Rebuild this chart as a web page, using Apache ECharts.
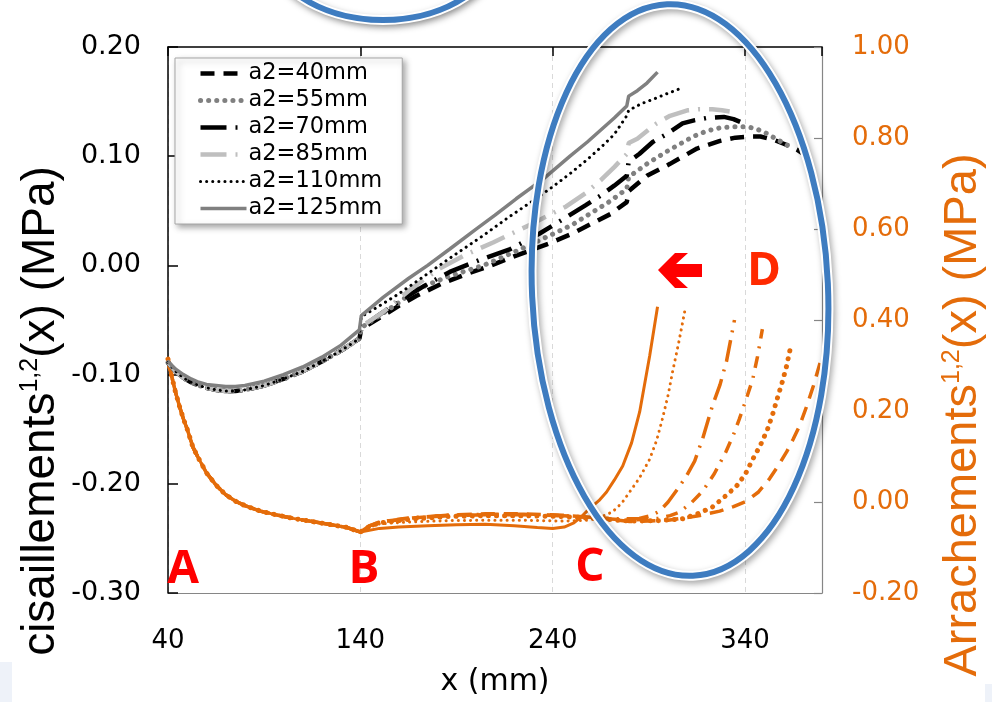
<!DOCTYPE html>
<html><head><meta charset="utf-8">
<script src="https://cdn.jsdelivr.net/npm/echarts@6/dist/echarts.min.js"></script>
<style>html,body{margin:0;padding:0;background:#fff}#c{width:992px;height:702px}</style>
</head><body><div id="c"></div>
<script>
// ---------- data ----------
const xTicks = [40, 140, 240, 340];
const legendNames = ['a2=40mm', 'a2=55mm', 'a2=70mm', 'a2=85mm', 'a2=110mm', 'a2=125mm'];

// shear (left axis, MPa) – common start up to x=140
const shearStart = [[40,-0.089],[44,-0.097],[48,-0.103],[52,-0.107],[56,-0.110],[60,-0.112],[65,-0.114],[70,-0.115],[75,-0.115],[80,-0.114],[90,-0.110],[100,-0.104],[110,-0.097],[120,-0.088],[130,-0.078],[139.5,-0.067]];
const shearStart125 = [[40,-0.088],[44,-0.095],[48,-0.100],[52,-0.104],[56,-0.107],[60,-0.109],[65,-0.110],[70,-0.111],[75,-0.111],[80,-0.110],[90,-0.106],[100,-0.100],[110,-0.093],[120,-0.084],[130,-0.073],[139.5,-0.059]];
const shear40 = [[140.5,-0.058],[150,-0.048],[160,-0.037],[169,-0.028],[182,-0.017],[195,-0.008],[208,0.000],[221,0.009],[238,0.020],[250,0.029],[260,0.038],[270,0.047],[278.5,0.058],[279.5,0.068],[289,0.082],[301,0.093],[315,0.107],[327,0.114],[335,0.117],[342,0.118],[348,0.118],[355,0.115],[362,0.110],[367,0.106],[372,0.100]];
const shear55 = [[140.5,-0.057],[150,-0.046],[160,-0.034],[169,-0.022],[186,-0.010],[204,0.000],[221,0.013],[238,0.027],[250,0.037],[260,0.048],[270,0.059],[278.5,0.070],[279.5,0.081],[289,0.093],[299,0.104],[306,0.111],[313,0.118],[320,0.123],[327,0.126],[334,0.127],[341,0.127],[346,0.125],[351,0.121],[356,0.116],[362,0.110]];
const shear70 = [[140.5,-0.057],[150,-0.045],[160,-0.033],[173,-0.019],[186.5,-0.006],[202,0.005],[218,0.015],[233,0.029],[247,0.044],[257,0.055],[265,0.064],[272,0.073],[278.5,0.082],[279.5,0.095],[285,0.102],[292,0.113],[299,0.120],[307.5,0.130],[314,0.133],[320,0.135],[329,0.136],[334,0.134],[338,0.131]];
const shear85 = [[140.5,-0.056],[151.7,-0.043],[166,-0.022],[181,-0.003],[195,0.010],[209,0.021],[228,0.037],[247,0.054],[257,0.066],[265,0.078],[272,0.090],[278.5,0.102],[279.5,0.112],[284,0.116],[289,0.123],[294,0.130],[301,0.137],[310,0.142],[316,0.143],[323,0.143],[328,0.142],[332,0.141]];
const shear110 = [[140.5,-0.047],[150,-0.037],[160,-0.026],[169,-0.015],[186,0.006],[203.6,0.027],[217,0.044],[229.6,0.059],[240,0.072],[249,0.084],[258,0.097],[265,0.108],[272,0.120],[278.5,0.137],[279.5,0.142],[286,0.148],[292,0.152],[299,0.157],[306.5,0.162]];
const shear125 = [[140.5,-0.046],[152,-0.029],[165,-0.012],[175,0.000],[186.5,0.015],[200,0.033],[210,0.046],[221,0.061],[235,0.079],[249,0.100],[258,0.113],[265,0.124],[272,0.135],[278.5,0.146],[279.5,0.155],[284,0.160],[289,0.167],[294.5,0.177]];

// pull-off (right axis, MPa) – common start up to x=140
const pullStart = [[40,0.314],[42,0.275],[44,0.240],[46,0.210],[48,0.183],[50,0.160],[53,0.120],[56,0.095],[60,0.064],[65,0.037],[70,0.016],[75,0.002],[80,-0.008],[88,-0.020],[96,-0.028],[105,-0.036],[115,-0.043],[125,-0.050],[133,-0.056],[140,-0.066]];
const pull40 = [[145,-0.052],[150,-0.045],[165,-0.036],[185,-0.029],[205,-0.026],[225,-0.026],[245,-0.029],[262,-0.034],[280,-0.043],[300,-0.040],[315,-0.031],[326.8,-0.020],[334,-0.010],[340.8,0.002],[347,0.022],[352.7,0.051],[357,0.078],[361.6,0.110],[365,0.138],[368.3,0.167],[372,0.210],[375.5,0.255],[380,0.320]];
const pull55 = [[145,-0.053],[150,-0.046],[165,-0.038],[185,-0.032],[205,-0.030],[225,-0.030],[245,-0.032],[262,-0.036],[280,-0.042],[295,-0.041],[307.5,-0.037],[316,-0.025],[323,-0.011],[329,0.010],[335.6,0.035],[340,0.060],[344,0.094],[348,0.125],[351.7,0.160],[354.5,0.195],[357,0.231],[359.5,0.266],[361.6,0.299],[364,0.347]];
const pull70 = [[145,-0.052],[150,-0.044],[165,-0.035],[185,-0.029],[205,-0.027],[225,-0.027],[245,-0.030],[262,-0.035],[280,-0.040],[295,-0.036],[301,-0.030],[306,-0.022],[312,-0.002],[318,0.024],[324,0.062],[330,0.110],[334,0.148],[337,0.182],[340.5,0.225],[344,0.270],[346.5,0.320],[349,0.380]];
const pull85 = [[145,-0.052],[150,-0.044],[165,-0.036],[185,-0.030],[205,-0.028],[225,-0.028],[245,-0.030],[262,-0.034],[275,-0.037],[285,-0.036],[291,-0.030],[295.6,-0.020],[300,0.000],[305,0.029],[309.5,0.057],[313.8,0.090],[318,0.140],[323,0.211],[327,0.258],[330.4,0.310],[334.5,0.400]];
const pull110 = [[145,-0.055],[150,-0.048],[165,-0.044],[185,-0.041],[205,-0.040],[225,-0.040],[245,-0.042],[258,-0.040],[265,-0.033],[271,-0.022],[276,-0.002],[280,0.022],[285,0.052],[290.4,0.094],[294,0.135],[297,0.182],[300,0.235],[302.3,0.286],[305.5,0.350],[308.6,0.418]];
const pull125 = [[150,-0.058],[160,-0.055],[175,-0.052],[190,-0.050],[205,-0.049],[220,-0.052],[232,-0.056],[240,-0.058],[246,-0.055],[251,-0.046],[255,-0.032],[259,-0.015],[264,0.003],[268,0.022],[272,0.048],[276.4,0.079],[281,0.130],[285.2,0.198],[290.4,0.321],[294.5,0.429]];

// ---------- styles ----------
const ORANGE = '#e46c0a';
const shearStyles = [
  {color:'#000000', width:4.5, type:[14,9], cap:'butt'},
  {color:'#808080', width:5, type:[0.1,8], cap:'round'},
  {color:'#000000', width:4.5, type:[26,9,2,9], cap:'butt'},
  {color:'#bfbfbf', width:4.5, type:[26,9,2,9], cap:'butt'},
  {color:'#000000', width:3, type:[0.1,6], cap:'round'},
  {color:'#808080', width:3.5, type:'solid', cap:'butt'}
];
const pullStyles = [
  {width:3.5, type:[14,9], cap:'butt'},
  {width:5, type:[0.1,8], cap:'round'},
  {width:3.5, type:[12,8,2,8], cap:'butt'},
  {width:3.5, type:[22,8,2,8], cap:'butt'},
  {width:3, type:[0.1,6], cap:'round'},
  {width:3, type:'solid', cap:'butt'}
];

const shearTails = [shear40, shear55, shear70, shear85, shear110, shear125];
const pullTails = [pull40, pull55, pull70, pull85, pull110, pull125];

const series = [];
pullTails.forEach((tail, i) => {
  const s = pullStyles[i];
  series.push({
    name: 'pull ' + legendNames[i], type: 'line', xAxisIndex: 0, yAxisIndex: 1,
    data: pullStart.concat(tail), symbol: 'none', showSymbol: false,
    lineStyle: {color: ORANGE, width: s.width, type: s.type, cap: s.cap}, z: 3
  });
});
shearTails.forEach((tail, i) => {
  const s = shearStyles[i];
  const start = i === 5 ? shearStart125 : shearStart;
  series.push({
    name: legendNames[i], type: 'line', xAxisIndex: 0, yAxisIndex: 0,
    data: start.concat(tail), symbol: 'none', showSymbol: false,
    itemStyle: {color: s.color},
    lineStyle: {color: s.color, width: s.width, type: s.type, cap: s.cap}, z: 4
  });
});

const chart = echarts.init(document.getElementById('c'), null, {renderer: 'canvas'});

const ringStyle = (extra) => Object.assign({fill: 'none'}, extra);
const letter = (t, x, y, c) => ({type: 'text', x: x, y: y, z: 70,
  style: {text: t, fill: c, fontSize: 46, fontWeight: 'bold', fontFamily: 'Open Sans',
    align: 'center', verticalAlign: 'middle', textAlign: 'center', textVerticalAlign: 'middle'}});

chart.setOption({
  animation: false,
  backgroundColor: '#ffffff',
  textStyle: {fontFamily: 'DejaVu Sans'},
  grid: {left: 168, right: 170, top: 47, bottom: 109, containLabel: false},
  legend: {
    data: legendNames, orient: 'vertical', left: 175, top: 58,
    itemWidth: 46, itemHeight: 20, itemGap: 4,
    padding: [4, 20, 4, 23],
    backgroundColor: '#ffffff', borderColor: '#a6a6a6', borderWidth: 1,
    shadowBlur: 6, shadowColor: 'rgba(0,0,0,0.35)', shadowOffsetX: 3, shadowOffsetY: 3,
    itemStyle: {opacity: 0},
    lineStyle: {width: 'inherit', type: 'inherit', cap: 'inherit', color: 'inherit'},
    textStyle: {fontSize: 22.5, color: '#000', fontFamily: 'DejaVu Sans', lineHeight: 20, padding: [0,0,0,-3]},
    selectedMode: false
  },
  xAxis: [
    {
      type: 'value', position: 'bottom', min: 40, max: 380, interval: 100,
      name: 'x (mm)', nameLocation: 'middle', nameGap: 74,
      nameTextStyle: {fontSize: 30, color: '#000', fontFamily: 'DejaVu Sans'},
      axisLine: {show: true, onZero: false, lineStyle: {color: '#868686', width: 1.2}},
      axisTick: {show: false},
      axisLabel: {fontSize: 26, color: '#000', margin: 35, showMaxLabel: false,
        formatter: v => (xTicks.indexOf(Math.round(v)) >= 0 ? String(Math.round(v)) : '')},
      splitLine: {show: true, lineStyle: {color: '#d9d9d9', type: [5, 4], width: 1}}
    },
    {
      type: 'value', position: 'top', min: 40, max: 380, interval: 100,
      axisLine: {show: true, onZero: false, lineStyle: {color: '#000', width: 1.5}},
      axisTick: {show: true, inside: true, length: 9, lineStyle: {color: '#000', width: 1.5}},
      axisLabel: {show: false}, splitLine: {show: false}
    }
  ],
  yAxis: [
    {
      type: 'value', position: 'left', min: -0.3, max: 0.2, interval: 0.1,
      axisLine: {show: true, onZero: false, lineStyle: {color: '#000', width: 1.5}},
      axisTick: {show: true, inside: true, length: 10, lineStyle: {color: '#000', width: 1.5}},
      axisLabel: {fontSize: 27, color: '#000', margin: 27, formatter: v => (Math.abs(v) < 1e-9 ? 0 : v).toFixed(2)},
      splitLine: {show: false}
    },
    {
      type: 'value', position: 'right', min: -0.2, max: 1.0, interval: 0.2,
      axisLine: {show: true, onZero: false, lineStyle: {color: '#868686', width: 1.2}},
      axisTick: {show: true, inside: true, length: 8, lineStyle: {color: '#868686', width: 1.2}},
      axisLabel: {fontSize: 26, color: ORANGE, margin: 30, formatter: v => (Math.abs(v) < 1e-9 ? 0 : v).toFixed(2)},
      splitLine: {show: false}
    }
  ],
  series: series,
  graphic: [
    // axis titles
    {type: 'text', x: 41, y: 411, rotation: Math.PI / 2, z: 50,
      style: {text: '{a|cisaillements}{s|1,2}{a|(x) (MPa)}', align: 'center', verticalAlign: 'middle',
        textAlign: 'center', textVerticalAlign: 'middle',
        rich: {a: {fontSize: 46, fontFamily: 'Liberation Sans', fill: '#000'},
               s: {fontSize: 25, fontFamily: 'Liberation Sans', fill: '#000', verticalAlign: 'top'}}}},
    {type: 'text', x: 963, y: 415, rotation: Math.PI / 2, z: 50,
      style: {text: '{a|Arrachements}{s|1,2}{a|(x) (MPa)}', align: 'center', verticalAlign: 'middle',
        textAlign: 'center', textVerticalAlign: 'middle',
        rich: {a: {fontSize: 47, fontFamily: 'Liberation Sans', fill: ORANGE},
               s: {fontSize: 25, fontFamily: 'Liberation Sans', fill: ORANGE, verticalAlign: 'top'}}}},
    // big ellipse
    {type: 'ellipse', x: 680, y: 290, rotation: 0.045, z: 60, silent: true,
      shape: {cx: 0, cy: 0, rx: 148, ry: 286},
      style: ringStyle({stroke: '#ffffff', lineWidth: 10, shadowBlur: 6, shadowColor: 'rgba(0,0,0,0.35)', shadowOffsetX: 2, shadowOffsetY: 3})},
    {type: 'ellipse', x: 680, y: 290, rotation: 0.045, z: 61, silent: true,
      shape: {cx: 0, cy: 0, rx: 148, ry: 286},
      style: ringStyle({stroke: '#3e7cc0', lineWidth: 6})},
    // top partial ellipse
    {type: 'ellipse', x: 383, y: -62, z: 60, silent: true,
      shape: {cx: 0, cy: 0, rx: 118, ry: 82},
      style: {fill: '#ffffff', stroke: '#ffffff', lineWidth: 10, shadowBlur: 6, shadowColor: 'rgba(0,0,0,0.35)', shadowOffsetX: 2, shadowOffsetY: 3}},
    {type: 'ellipse', x: 383, y: -62, z: 61, silent: true,
      shape: {cx: 0, cy: 0, rx: 118, ry: 82},
      style: ringStyle({stroke: '#3e7cc0', lineWidth: 6})},
    // faint corner marks
    {type: 'rect', z: 1, shape: {x: 0, y: 662, width: 12, height: 40}, style: {fill: '#eef2f9'}},
    {type: 'rect', z: 1, shape: {x: 985, y: 684, width: 7, height: 18}, style: {fill: '#eef2f9'}},
    // red letters
    letter('A', 183, 570, '#ff0000'),
    letter('B', 364, 570, '#ff0000'),
    letter('C', 590, 568, '#ff0000'),
    letter('D', 764, 272, '#ff2a00'),
    // red arrow
    {type: 'polygon', z: 70, shape: {points: [[658,270],[675,253],[688,253],[676,264],[702,264],[702,277],[676,277],[688,288],[675,288]]}, style: {fill: '#ff0000'}}
  ]
});
</script></body></html>
